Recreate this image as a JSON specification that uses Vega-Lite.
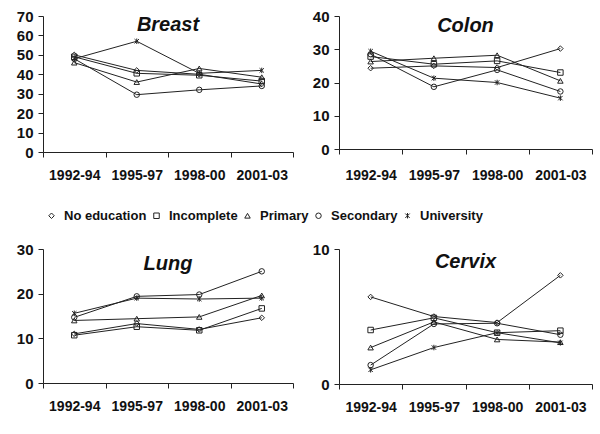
{
  "$schema": "https://vega.github.io/schema/vega-lite/v6.json",
  "padding": {"left": 16, "top": 9, "right": 5, "bottom": 5},
  "background": "white",
  "config": {
    "font": "Liberation Sans",
    "view": {"stroke": null},
    "axis": {"domainColor": "#222", "tickColor": "#222", "labelColor": "#111", "labelFont": "Liberation Sans", "labelFontWeight": "bold", "labelFontSize": 14, "grid": false, "title": null, "domainWidth": 1, "tickWidth": 1, "tickSize": 5},
    "axisY": {"labelFontSize": 15, "labelPadding": 5},
    "text": {"fill": "#111", "font": "Liberation Sans", "fontSize": 20, "fontStyle": "italic", "fontWeight": "bold", "align": "center", "baseline": "top"}
  },
  "datasets": {
    "rates": [
    {"cancer": "Breast", "edu": "No education", "period": "1992-94", "value": 50},
    {"cancer": "Breast", "edu": "No education", "period": "1995-97", "value": 42},
    {"cancer": "Breast", "edu": "No education", "period": "1998-00", "value": 40},
    {"cancer": "Breast", "edu": "No education", "period": "2001-03", "value": 35},
    {"cancer": "Breast", "edu": "Incomplete", "period": "1992-94", "value": 49},
    {"cancer": "Breast", "edu": "Incomplete", "period": "1995-97", "value": 40.5},
    {"cancer": "Breast", "edu": "Incomplete", "period": "1998-00", "value": 39.5},
    {"cancer": "Breast", "edu": "Incomplete", "period": "2001-03", "value": 36.5},
    {"cancer": "Breast", "edu": "Primary", "period": "1992-94", "value": 46},
    {"cancer": "Breast", "edu": "Primary", "period": "1995-97", "value": 36},
    {"cancer": "Breast", "edu": "Primary", "period": "1998-00", "value": 43},
    {"cancer": "Breast", "edu": "Primary", "period": "2001-03", "value": 38.5},
    {"cancer": "Breast", "edu": "Secondary", "period": "1992-94", "value": 48},
    {"cancer": "Breast", "edu": "Secondary", "period": "1995-97", "value": 29.5},
    {"cancer": "Breast", "edu": "Secondary", "period": "1998-00", "value": 32},
    {"cancer": "Breast", "edu": "Secondary", "period": "2001-03", "value": 34},
    {"cancer": "Breast", "edu": "University", "period": "1992-94", "value": 48},
    {"cancer": "Breast", "edu": "University", "period": "1995-97", "value": 57},
    {"cancer": "Breast", "edu": "University", "period": "1998-00", "value": 40.5},
    {"cancer": "Breast", "edu": "University", "period": "2001-03", "value": 42},
    {"cancer": "Colon", "edu": "No education", "period": "1992-94", "value": 24.3},
    {"cancer": "Colon", "edu": "No education", "period": "1995-97", "value": 25},
    {"cancer": "Colon", "edu": "No education", "period": "1998-00", "value": 24.5},
    {"cancer": "Colon", "edu": "No education", "period": "2001-03", "value": 30.2},
    {"cancer": "Colon", "edu": "Incomplete", "period": "1992-94", "value": 27.8},
    {"cancer": "Colon", "edu": "Incomplete", "period": "1995-97", "value": 25.5},
    {"cancer": "Colon", "edu": "Incomplete", "period": "1998-00", "value": 26.5},
    {"cancer": "Colon", "edu": "Incomplete", "period": "2001-03", "value": 23},
    {"cancer": "Colon", "edu": "Primary", "period": "1992-94", "value": 26.3},
    {"cancer": "Colon", "edu": "Primary", "period": "1995-97", "value": 27.3},
    {"cancer": "Colon", "edu": "Primary", "period": "1998-00", "value": 28.2},
    {"cancer": "Colon", "edu": "Primary", "period": "2001-03", "value": 20.5},
    {"cancer": "Colon", "edu": "Secondary", "period": "1992-94", "value": 28.5},
    {"cancer": "Colon", "edu": "Secondary", "period": "1995-97", "value": 18.7},
    {"cancer": "Colon", "edu": "Secondary", "period": "1998-00", "value": 23.8},
    {"cancer": "Colon", "edu": "Secondary", "period": "2001-03", "value": 17.3},
    {"cancer": "Colon", "edu": "University", "period": "1992-94", "value": 29.4},
    {"cancer": "Colon", "edu": "University", "period": "1995-97", "value": 21.3},
    {"cancer": "Colon", "edu": "University", "period": "1998-00", "value": 20},
    {"cancer": "Colon", "edu": "University", "period": "2001-03", "value": 15.3},
    {"cancer": "Lung", "edu": "No education", "period": "1992-94", "value": 11},
    {"cancer": "Lung", "edu": "No education", "period": "1995-97", "value": 13.3},
    {"cancer": "Lung", "edu": "No education", "period": "1998-00", "value": 12},
    {"cancer": "Lung", "edu": "No education", "period": "2001-03", "value": 14.6},
    {"cancer": "Lung", "edu": "Incomplete", "period": "1992-94", "value": 10.7},
    {"cancer": "Lung", "edu": "Incomplete", "period": "1995-97", "value": 12.6},
    {"cancer": "Lung", "edu": "Incomplete", "period": "1998-00", "value": 11.8},
    {"cancer": "Lung", "edu": "Incomplete", "period": "2001-03", "value": 16.7},
    {"cancer": "Lung", "edu": "Primary", "period": "1992-94", "value": 14},
    {"cancer": "Lung", "edu": "Primary", "period": "1995-97", "value": 14.4},
    {"cancer": "Lung", "edu": "Primary", "period": "1998-00", "value": 14.8},
    {"cancer": "Lung", "edu": "Primary", "period": "2001-03", "value": 19.6},
    {"cancer": "Lung", "edu": "Secondary", "period": "1992-94", "value": 14.7},
    {"cancer": "Lung", "edu": "Secondary", "period": "1995-97", "value": 19.4},
    {"cancer": "Lung", "edu": "Secondary", "period": "1998-00", "value": 19.8},
    {"cancer": "Lung", "edu": "Secondary", "period": "2001-03", "value": 25},
    {"cancer": "Lung", "edu": "University", "period": "1992-94", "value": 15.6},
    {"cancer": "Lung", "edu": "University", "period": "1995-97", "value": 19},
    {"cancer": "Lung", "edu": "University", "period": "1998-00", "value": 18.8},
    {"cancer": "Lung", "edu": "University", "period": "2001-03", "value": 19},
    {"cancer": "Cervix", "edu": "No education", "period": "1992-94", "value": 6.45},
    {"cancer": "Cervix", "edu": "No education", "period": "1995-97", "value": 5.0},
    {"cancer": "Cervix", "edu": "No education", "period": "1998-00", "value": 4.55},
    {"cancer": "Cervix", "edu": "No education", "period": "2001-03", "value": 8.05},
    {"cancer": "Cervix", "edu": "Incomplete", "period": "1992-94", "value": 4.0},
    {"cancer": "Cervix", "edu": "Incomplete", "period": "1995-97", "value": 4.9},
    {"cancer": "Cervix", "edu": "Incomplete", "period": "1998-00", "value": 3.8},
    {"cancer": "Cervix", "edu": "Incomplete", "period": "2001-03", "value": 3.95},
    {"cancer": "Cervix", "edu": "Primary", "period": "1992-94", "value": 2.7},
    {"cancer": "Cervix", "edu": "Primary", "period": "1995-97", "value": 4.6},
    {"cancer": "Cervix", "edu": "Primary", "period": "1998-00", "value": 3.3},
    {"cancer": "Cervix", "edu": "Primary", "period": "2001-03", "value": 3.1},
    {"cancer": "Cervix", "edu": "Secondary", "period": "1992-94", "value": 1.4},
    {"cancer": "Cervix", "edu": "Secondary", "period": "1995-97", "value": 4.45},
    {"cancer": "Cervix", "edu": "Secondary", "period": "1998-00", "value": 4.5},
    {"cancer": "Cervix", "edu": "Secondary", "period": "2001-03", "value": 3.65},
    {"cancer": "Cervix", "edu": "University", "period": "1992-94", "value": 1.05},
    {"cancer": "Cervix", "edu": "University", "period": "1995-97", "value": 2.7},
    {"cancer": "Cervix", "edu": "University", "period": "1998-00", "value": 3.8},
    {"cancer": "Cervix", "edu": "University", "period": "2001-03", "value": 3.05}
    ]
  },
  "spacing": 60,
  "vconcat": [
    {
      "spacing": 18,
      "hconcat": [
        {
          "width": 250, "height": 136,
          "encoding": {
            "x": {"field": "period", "type": "ordinal", "scale": {"type": "band", "paddingInner": 0, "paddingOuter": 0}, "bandPosition": 0.5, "axis": {"tickBand": "extent", "labelAngle": 0, "labelPadding": 11, "title": null}},
            "y": {"field": "value", "type": "quantitative", "scale": {"domain": [0, 70]}, "axis": {"values": [0, 10, 20, 30, 40, 50, 60, 70], "title": null}}
          },
          "layer": [
            {"data": {"name": "rates"}, "transform": [{"filter": "datum.cancer === 'Breast'"}],
             "mark": {"type": "line", "color": "#222", "strokeWidth": 1}, "encoding": {"detail": {"field": "edu"}}},
            {"data": {"name": "rates"}, "transform": [{"filter": "datum.cancer === 'Breast'"}],
             "mark": {"type": "point", "filled": false, "color": "#222", "strokeWidth": 1, "size": 30, "opacity": 1},
             "encoding": {"shape": {"field": "edu", "type": "nominal",
               "scale": {"domain": ["No education", "Incomplete", "Primary", "Secondary", "University"], "range": ["diamond", "square", "triangle-up", "circle", "M-0.8,-0.8L0.8,0.8M-0.8,0.8L0.8,-0.8M0,-1L0,1"]},
               "legend": {"orient": "none", "legendX": 2, "legendY": 193, "direction": "horizontal", "title": null, "labelFont": "Liberation Sans", "labelFontSize": 13, "labelFontWeight": "bold", "labelColor": "#111", "symbolSize": 30, "symbolStrokeColor": "#222", "symbolStrokeWidth": 1, "labelOffset": 6, "columnPadding": 3}}}},
            {"data": {"values": [{"label": "Breast", "period": "1995-97", "value": 70}]},
             "mark": {"type": "text", "dy": -1},
             "encoding": {"x": {"field": "period", "type": "ordinal", "bandPosition": 1}, "y": {"field": "value", "type": "quantitative"}, "text": {"field": "label"}}}
          ]
        },
        {
          "width": 253, "height": 133,
          "encoding": {
            "x": {"field": "period", "type": "ordinal", "scale": {"type": "band", "paddingInner": 0, "paddingOuter": 0}, "bandPosition": 0.5, "axis": {"tickBand": "extent", "labelAngle": 0, "labelPadding": 14, "title": null}},
            "y": {"field": "value", "type": "quantitative", "scale": {"domain": [0, 40]}, "axis": {"values": [0, 10, 20, 30, 40], "title": null}}
          },
          "layer": [
            {"data": {"name": "rates"}, "transform": [{"filter": "datum.cancer === 'Colon'"}],
             "mark": {"type": "line", "color": "#222", "strokeWidth": 1}, "encoding": {"detail": {"field": "edu"}}},
            {"data": {"name": "rates"}, "transform": [{"filter": "datum.cancer === 'Colon'"}],
             "mark": {"type": "point", "filled": false, "color": "#222", "strokeWidth": 1, "size": 30, "opacity": 1},
             "encoding": {"shape": {"field": "edu", "type": "nominal"}}},
            {"data": {"values": [{"label": "Colon", "period": "1995-97", "value": 40}]},
             "mark": {"type": "text", "dy": 0},
             "encoding": {"x": {"field": "period", "type": "ordinal", "bandPosition": 1}, "y": {"field": "value", "type": "quantitative"}, "text": {"field": "label"}}}
          ]
        }
      ]
    },
    {
      "spacing": 18,
      "hconcat": [
        {
          "width": 250, "height": 134,
          "encoding": {
            "x": {"field": "period", "type": "ordinal", "scale": {"type": "band", "paddingInner": 0, "paddingOuter": 0}, "bandPosition": 0.5, "axis": {"tickBand": "extent", "labelAngle": 0, "labelPadding": 11, "title": null}},
            "y": {"field": "value", "type": "quantitative", "scale": {"domain": [0, 30]}, "axis": {"values": [0, 10, 20, 30], "title": null}}
          },
          "layer": [
            {"data": {"name": "rates"}, "transform": [{"filter": "datum.cancer === 'Lung'"}],
             "mark": {"type": "line", "color": "#222", "strokeWidth": 1}, "encoding": {"detail": {"field": "edu"}}},
            {"data": {"name": "rates"}, "transform": [{"filter": "datum.cancer === 'Lung'"}],
             "mark": {"type": "point", "filled": false, "color": "#222", "strokeWidth": 1, "size": 30, "opacity": 1},
             "encoding": {"shape": {"field": "edu", "type": "nominal"}}},
            {"data": {"values": [{"label": "Lung", "period": "1995-97", "value": 30}]},
             "mark": {"type": "text", "dy": 4.5},
             "encoding": {"x": {"field": "period", "type": "ordinal", "bandPosition": 1}, "y": {"field": "value", "type": "quantitative"}, "text": {"field": "label"}}}
          ]
        },
        {
          "width": 253, "height": 135,
          "encoding": {
            "x": {"field": "period", "type": "ordinal", "scale": {"type": "band", "paddingInner": 0, "paddingOuter": 0}, "bandPosition": 0.5, "axis": {"tickBand": "extent", "labelAngle": 0, "labelPadding": 11, "title": null}},
            "y": {"field": "value", "type": "quantitative", "scale": {"domain": [0, 10]}, "axis": {"values": [0, 10], "title": null}}
          },
          "layer": [
            {"data": {"name": "rates"}, "transform": [{"filter": "datum.cancer === 'Cervix'"}],
             "mark": {"type": "line", "color": "#222", "strokeWidth": 1}, "encoding": {"detail": {"field": "edu"}}},
            {"data": {"name": "rates"}, "transform": [{"filter": "datum.cancer === 'Cervix'"}],
             "mark": {"type": "point", "filled": false, "color": "#222", "strokeWidth": 1, "size": 30, "opacity": 1},
             "encoding": {"shape": {"field": "edu", "type": "nominal"}}},
            {"data": {"values": [{"label": "Cervix", "period": "1995-97", "value": 10}]},
             "mark": {"type": "text", "dy": 3},
             "encoding": {"x": {"field": "period", "type": "ordinal", "bandPosition": 1}, "y": {"field": "value", "type": "quantitative"}, "text": {"field": "label"}}}
          ]
        }
      ]
    }
  ]
}
